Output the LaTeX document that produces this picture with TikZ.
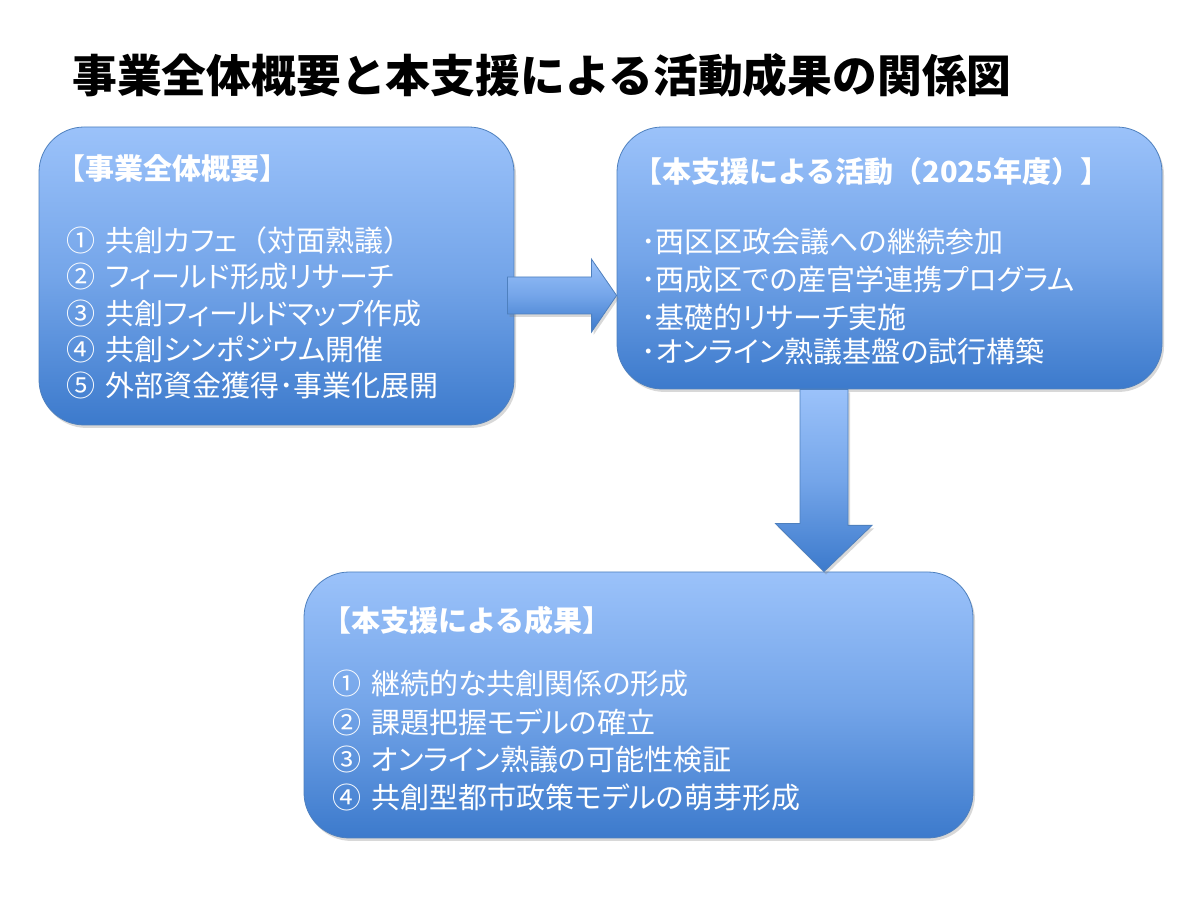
\documentclass[tikz,border=0pt]{standalone}
\usepackage{fontspec}
\setmainfont{Noto Sans CJK JP}
\newfontfamily\jpbody[RawFeature=+palt]{Noto Sans CJK JP}
\usetikzlibrary{shadows}
\definecolor{topblue}{RGB}{155,194,250}
\definecolor{midblue}{RGB}{116,165,233}
\definecolor{botblue}{RGB}{60,122,204}
\definecolor{edgeblue}{RGB}{78,128,190}
\tikzset{
  panel/.style={draw=edgeblue, line width=0.6pt, rounded corners=34pt, inner sep=0pt,
    top color=topblue, bottom color=botblue, middle color=midblue,
    drop shadow={shadow xshift=1.5pt, shadow yshift=-2.2pt, opacity=0.3}},
  blockarrow/.style={draw=edgeblue, line width=0.6pt,
    top color=topblue, bottom color=botblue, middle color=midblue,
    drop shadow={shadow xshift=1.5pt, shadow yshift=-2.2pt, opacity=0.3}},
  head/.style={anchor=west, inner sep=0pt, text=white, font=\bfseries\fontsize{21.75}{26}\selectfont},
  item/.style={anchor=west, inner sep=0pt, text=white, font=\jpbody\fontsize{21.75}{26}\selectfont},
}
\begin{document}
\begin{tikzpicture}[x=0.75pt,y=0.75pt]
  \fill[white] (0,0) rectangle (1200,900);
  \useasboundingbox (0,0) rectangle (1200,900);
  % 表題
  \node[anchor=west, inner sep=0pt, font=\bfseries\fontsize{33.6}{38}\selectfont] (title) at (72,825)
    {事業全体概要と本支援による活動成果の関係図};
  % 三つの角丸の枠
  \node[panel, minimum width=356.25pt, minimum height=223.5pt] (gaiyo) at (276.5,624) {};
  \node[panel, minimum width=408.75pt, minimum height=196.5pt] (katsudo) at (889.5,642) {};
  \node[panel, minimum width=501.75pt, minimum height=199.5pt] (seika) at (638.5,195) {};
  % 右向きの太矢印（概要 → 活動）
  \coordinate (rs) at ([xshift=-5.25pt]gaiyo.east |- 0,604.5);
  \coordinate (rt) at (katsudo.west |- rs);
  \draw[blockarrow] (rs) ++(0,18.5) -- ++(84,0) -- ++(0,18) -- (rt) -- ++(-25,-36.5)
    -- ++(0,18) -- ++(-84,0) -- cycle;
  % 下向きの太矢印（活動 → 成果）
  \coordinate (ds) at (824,0 |- katsudo.south);
  \coordinate (dt) at (ds |- seika.north);
  \draw[blockarrow] (ds) ++(-24,0) -- ++(48,0) -- ++(0,-136) -- ++(24,0) -- (dt)
    -- ++(-48.5,48) -- ++(24.5,0) -- cycle;
  % 事業全体概要
  \node[head] (gh) at (56,732) {【事業全体概要】};
  \node[item] (g1) at (66,660) {①\hspace{.35em}共創カフェ{\rmfamily（}対面熟議{\rmfamily）}};
  \node[item] (g2) at (66,623) {②\hspace{.35em}フィールド形成リサーチ};
  \node[item] (g3) at (66,587) {③\hspace{.35em}共創フィールドマップ作成};
  \node[item] (g4) at (66,551) {④\hspace{.35em}共創シンポジウム開催};
  \node[item] (g5) at (66,515) {⑤\hspace{.35em}外部資金獲得･事業化展開};
  % 本支援による活動
  \node[head] (kh) at (633,728) {【本支援による活動（2025年度）】};
  \node[item] (k1) at (641,658) {･西区区政会議への継続参加};
  \node[item] (k2) at (641,620) {･西成区での産官学連携プログラム};
  \node[item] (k3) at (641,583) {･基礎的リサーチ実施};
  \node[item] (k4) at (641,548) {･オンライン熟議基盤の試行構築};
  % 本支援による成果
  \node[head] (sh) at (322,280) {【本支援による成果】};
  \node[item] (s1) at (332,217) {①\hspace{.35em}継続的な共創関係の形成};
  \node[item] (s2) at (332,178) {②\hspace{.35em}課題把握モデルの確立};
  \node[item] (s3) at (332,140) {③\hspace{.35em}オンライン熟議の可能性検証};
  \node[item] (s4) at (332,103) {④\hspace{.35em}共創型都市政策モデルの萌芽形成};
\end{tikzpicture}
\end{document}
